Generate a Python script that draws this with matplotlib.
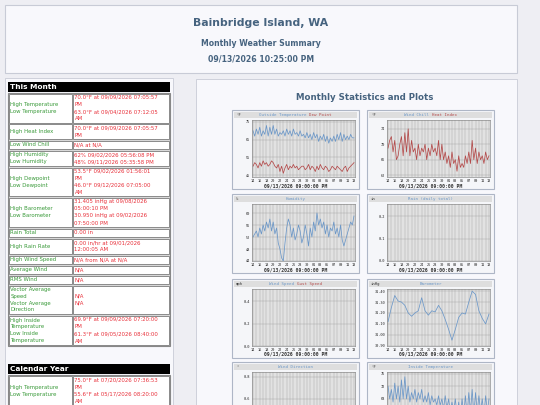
import numpy as np
import matplotlib.pyplot as plt
from matplotlib.patches import Rectangle

W, H = 540, 405

page_bg = '#eeeef3'
box_bg = '#f8f8fc'
box_edge = '#c8cbd6'
head_col = '#46637f'
lbl_col = '#3a9a3a'
val_col = '#e8303a'
blue = '#6b97c8'
red = '#b44a4a'

# ---- chart data (Aug 14 .. Sep 13, two readings a day) ----
days = np.arange(0, 30.5, 0.5)
day_labels = ['14', '16', '18', '20', '22', '24', '26', '28', '30',
              '01', '03', '05', '07', '09', '11', '13']

outside_temp = [70, 67, 71, 68, 72, 67, 70, 68, 73, 67, 72, 68, 73, 68, 71, 67,
                69, 68, 70, 67, 71, 68, 70, 67, 71, 68, 69, 67, 70, 67, 68, 66,
                69, 66, 68, 65, 69, 66, 68, 64, 67, 65, 68, 64, 67, 63, 66, 64,
                67, 64, 68, 65, 69, 64, 68, 65, 67, 65, 68, 66, 66]
dew_point = [50, 52, 51, 49, 52, 50, 53, 51, 52, 50, 51, 53, 52, 50, 49, 51,
             47, 50, 46, 49, 51, 48, 50, 49, 51, 49, 50, 48, 49, 50, 50, 48,
             49, 51, 48, 50, 49, 47, 50, 48, 51, 49, 48, 50, 49, 47, 48, 50,
             49, 48, 50, 49, 48, 47, 49, 50, 47, 49, 50, 51, 52]
heat_index = [69, 71, 72, 68, 71, 66, 67, 70, 72, 67, 73, 68, 74, 67, 71, 68,
              69, 66, 70, 67, 69, 68, 70, 66, 69, 67, 70, 68, 69, 67, 71, 66,
              70, 66, 68, 65, 67, 64, 68, 65, 66, 63, 67, 64, 65, 64, 67, 65,
              68, 65, 71, 66, 69, 65, 68, 66, 67, 65, 68, 66, 67]
humidity = [52, 53, 54, 52, 55, 53, 56, 54, 57, 55, 58, 54, 57, 53, 55, 50,
            48, 45, 44, 50, 55, 58, 56, 52, 55, 51, 53, 56, 54, 50, 52, 56,
            53, 49, 55, 52, 57, 54, 60, 56, 58, 55, 57, 53, 56, 52, 55, 54,
            57, 53, 55, 52, 56, 51, 49, 51, 53, 55, 57, 56, 59]
baro_days = np.arange(0, 31)
barometer = [31.12, 31.25, 31.36, 31.31, 31.30, 31.27, 31.20, 31.17, 31.20,
             31.22, 31.34, 31.22, 31.18, 31.22, 31.21, 31.27, 31.22, 31.14,
             31.05, 30.95, 31.05, 31.16, 31.20, 31.19, 31.30, 31.40, 31.37,
             31.22, 31.15, 31.10, 31.19]
inside_temp = [72, 68, 71, 67, 73, 68, 72, 67, 74, 68, 75, 68, 72, 67, 70, 68,
               71, 67, 70, 68, 71, 67, 69, 67, 70, 66, 69, 67, 68, 66, 69, 66,
               68, 65, 69, 65, 68, 64, 67, 64, 68, 63, 67, 62, 68, 63, 69, 63,
               70, 64, 71, 63, 70, 64, 69, 64, 68, 63, 69, 64, 68]

# ---- table text ----
month_rows = [
    (['High Temperature', 'Low Temperature'],
     ['70.0°F at 09/09/2026 07:05:57', 'PM', '63.0°F at 09/04/2026 07:12:05', 'AM']),
    (['High Heat Index'], ['70.0°F at 09/09/2026 07:05:57', 'PM']),
    (['Low Wind Chill'], ['N/A at N/A']),
    (['High Humidity', 'Low Humidity'],
     ['62% 09/02/2026 05:56:08 PM', '48% 09/11/2026 05:35:58 PM']),
    (['High Dewpoint', 'Low Dewpoint'],
     ['53.5°F 09/02/2026 01:56:01', 'PM', '46.0°F 09/12/2026 07:05:00', 'AM']),
    (['High Barometer', 'Low Barometer'],
     ['31.405 inHg at 09/08/2026', '05:00:10 PM', '30.950 inHg at 09/02/2026', '07:50:00 PM']),
    (['Rain Total'], ['0.00 in']),
    (['High Rain Rate'], ['0.00 in/hr at 09/01/2026', '12:00:05 AM']),
    (['High Wind Speed'], ['N/A from N/A at N/A']),
    (['Average Wind'], ['N/A']),
    (['RMS Wind'], ['N/A']),
    (['Vector Average', 'Speed', 'Vector Average', 'Direction'], ['N/A', 'N/A']),
    (['High Inside', 'Temperature', 'Low Inside', 'Temperature'],
     ['69.9°F at 09/09/2026 07:20:00', 'PM', '61.3°F at 09/05/2026 08:40:00', 'AM']),
]
month_bounds = [(93.5, 122.5), (124, 139), (140.5, 149), (150.5, 166),
                (167.5, 196), (197.5, 227), (228.5, 237), (238.5, 254),
                (255.5, 264), (265.5, 274), (275.5, 284), (285.5, 314),
                (315.5, 345)]
year_rows = [
    (['High Temperature', 'Low Temperature'],
     ['75.0°F at 07/20/2026 07:36:53', 'PM', '55.6°F at 05/17/2026 08:20:00', 'AM']),
]
year_bounds = [(375.5, 406)]

fig = plt.figure(figsize=(W / 100, H / 100), dpi=100, facecolor=page_bg)
bg = fig.add_axes([0, 0, 1, 1])
bg.set_xlim(0, W)
bg.set_ylim(H, 0)
bg.axis('off')


def px(x, y, w, h):
    return [x / W, 1 - (y + h) / H, w / W, h / H]


def lines_at(x, yc, lines, color, pitch=7.0, fs=3.9):
    y0 = yc - (len(lines) - 1) * pitch / 2
    for i, s in enumerate(lines):
        bg.text(x, y0 + i * pitch, s, color=color, fontsize=fs,
                va='center', ha='left')


# header box
bg.add_patch(Rectangle((5, 5), 512, 68, fc=box_bg, ec=box_edge, lw=0.8))
bg.text(261, 23, 'Bainbridge Island, WA', ha='center', va='center',
        fontsize=7.8, fontweight='bold', color=head_col)
bg.text(261, 43, 'Monthly Weather Summary', ha='center', va='center',
        fontsize=5.6, fontweight='bold', color=head_col)
bg.text(261, 59, '09/13/2026 10:25:00 PM', ha='center', va='center',
        fontsize=5.6, fontweight='bold', color=head_col)

# left panel
bg.add_patch(Rectangle((5, 78), 168, 340, fc=box_bg, ec=box_edge, lw=0.6))


def table(title, ytitle, rows, bounds):
    bg.add_patch(Rectangle((8, ytitle), 162, 10, fc='black', ec='none'))
    bg.text(9.5, ytitle + 5.3, title, color='white', fontsize=5.3,
            fontweight='bold', va='center', ha='left')
    top = bounds[0][0] - 1
    bot = bounds[-1][1] + 1
    bg.add_patch(Rectangle((8, top), 162, bot - top, fc='#d8d8d8',
                           ec='#888888', lw=0.8))
    for (labels, values), (y0, y1) in zip(rows, bounds):
        bg.add_patch(Rectangle((9, y0), 63, y1 - y0, fc='white',
                               ec='#8a8a8a', lw=0.7))
        bg.add_patch(Rectangle((73, y0), 96, y1 - y0, fc='white',
                               ec='#8a8a8a', lw=0.7))
        yc = (y0 + y1) / 2
        lines_at(10.5, yc, labels, lbl_col, pitch=6.8)
        lines_at(74.5, yc, values, val_col, pitch=7.2)


table('This Month', 82, month_rows, month_bounds)
table('Calendar Year', 364, year_rows, year_bounds)

# right panel
bg.add_patch(Rectangle((196, 79), 321, 340, fc=box_bg, ec=box_edge, lw=0.6))
bg.text(365, 97, 'Monthly Statistics and Plots', ha='center', va='center',
        fontsize=6.2, fontweight='bold', color=head_col)

mono = 'DejaVu Sans Mono'
col_x = [232, 367]
row_y = [110, 194, 279, 362]


def chart(col, row, unit, titles, ylim, yticks, ylabels, series, full=True):
    fx, fy = col_x[col], row_y[row]
    fw, fh = 127, 79
    bg.add_patch(Rectangle((fx, fy), fw, fh, fc='#f5f6f9', ec='#aeb6c6', lw=0.8))
    bg.add_patch(Rectangle((fx + 2, fy + 2), fw - 4, 6, fc='#dedede', ec='none'))
    bg.text(fx + 4, fy + 5, unit, fontsize=2.8, family=mono, va='center',
            ha='left', color='#333333')
    cw = 0.602 * 3.0 * 100 / 72
    total = sum(len(t) for t, c in titles) + len(titles) - 1
    x = fx + fw / 2 - total * cw / 2
    for t, c in titles:
        bg.text(x, fy + 5, t, fontsize=3.0, family=mono, va='center',
                ha='left', color=c)
        x += (len(t) + 1) * cw
    ax = fig.add_axes(px(fx + 20, fy + 10, 103, 57))
    ax.set_facecolor('#e2e2e2')
    for xs, ys, c in series:
        ax.plot(xs, ys, color=c, lw=0.55)
    ax.set_xlim(-0.3, 30.3)
    ax.set_ylim(*ylim)
    ax.set_xticks(np.arange(0, 31, 2))
    ax.set_xticklabels(day_labels if full else [])
    ax.set_xticks(np.arange(0, 31, 1), minor=True)
    ax.set_yticks(yticks)
    ax.set_yticklabels(ylabels)
    ax.grid(True, which='both', axis='x', color='#a9a9a9', lw=0.35)
    ax.grid(True, which='major', axis='y', color='#a9a9a9', lw=0.35)
    ax.set_axisbelow(True)
    ax.tick_params(which='both', length=0, labelsize=2.6, pad=1.2,
                   labelcolor='#222222')
    for lab in ax.get_xticklabels() + ax.get_yticklabels():
        lab.set_family(mono)
    for s in ax.spines.values():
        s.set_color('#8c8c8c')
        s.set_linewidth(0.5)
    if full:
        bg.text(fx + fw / 2, fy + 75.5, '09/13/2026 09:00:00 PM', fontsize=3.4,
                family=mono, fontweight='bold', ha='center', va='center',
                color='#333333')


chart(0, 0, '°F', [('Outside Temperature', blue), ('Dew Point', red)],
      (43.9, 76.1), [45, 55, 65, 75], ['45', '55', '65', '75'],
      [(days, outside_temp, blue), (days, dew_point, red)])
chart(1, 0, '°F', [('Wind Chill', blue), ('Heat Index', red)],
      (61.5, 76.3), [62, 66, 70, 74], ['62', '66', '70', '74'],
      [(days, heat_index, red)])
chart(0, 1, '%', [('Humidity', blue)],
      (44, 63), [44, 48, 52, 56, 60], ['44', '48', '52', '56', '60'],
      [(days, humidity, blue)])
chart(1, 1, 'in', [('Rain (daily total)', blue)],
      (0, 0.255), [0, 0.1, 0.2], ['0.0', '0.1', '0.2'], [])
chart(0, 2, 'mph', [('Wind Speed', blue), ('Gust Speed', red)],
      (0, 0.51), [0, 0.2, 0.4], ['0.0', '0.2', '0.4'], [])
chart(1, 2, 'inHg', [('Barometer', blue)],
      (30.897, 31.42), [30.9, 31.0, 31.1, 31.2, 31.3, 31.4],
      ['30.90', '31.00', '31.10', '31.20', '31.30', '31.40'],
      [(baro_days, barometer, blue)])
chart(0, 3, '°', [('Wind Direction', blue)],
      (0.327, 0.845), [0.6, 0.8], ['0.6', '0.8'], [], full=False)
chart(1, 3, '°F', [('Inside Temperature', blue)],
      (58.5, 76.5), [68, 72, 76], ['68', '72', '76'],
      [(days, inside_temp, blue)], full=False)

fig.savefig('out.png', dpi=100, facecolor=page_bg)
